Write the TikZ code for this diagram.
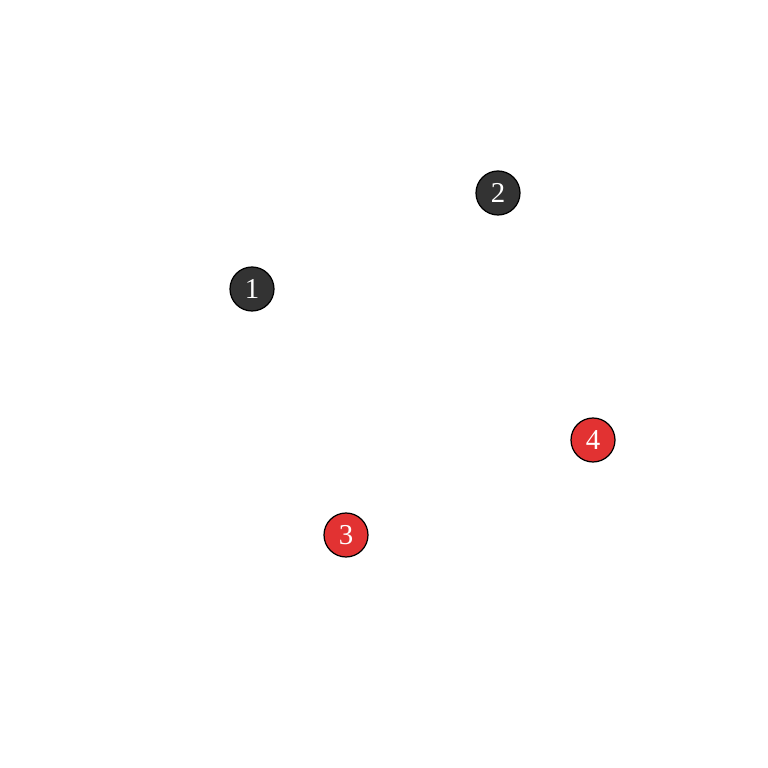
\documentclass[tikz,border=0pt]{standalone}
\usepackage{fontspec}
\setmainfont{Liberation Serif}
\usepackage{tikz}
\definecolor{darkvertex}{HTML}{333333}
\definecolor{redvertex}{HTML}{E23232}
\tikzset{vertex/.style = {circle, draw=black, line width=0.35pt, minimum size=0.44cm, inner sep=0pt, text=white, font=\fontsize{8.2}{9}\selectfont}}
\tikzset{darkv/.style = {vertex, fill=darkvertex}}
\tikzset{redv/.style = {vertex, fill=redvertex}}

\begin{document}
\begin{tikzpicture}
\useasboundingbox (0,0) rectangle (7.68,7.68);
\node [darkv] (v1) at (2.52,4.79) {1};
\node [darkv] (v2) at (4.98,5.75) {2};
\node [redv] (v3) at (3.46,2.33) {3};
\node [redv] (v4) at (5.93,3.28) {4};
\end{tikzpicture}
\end{document}
